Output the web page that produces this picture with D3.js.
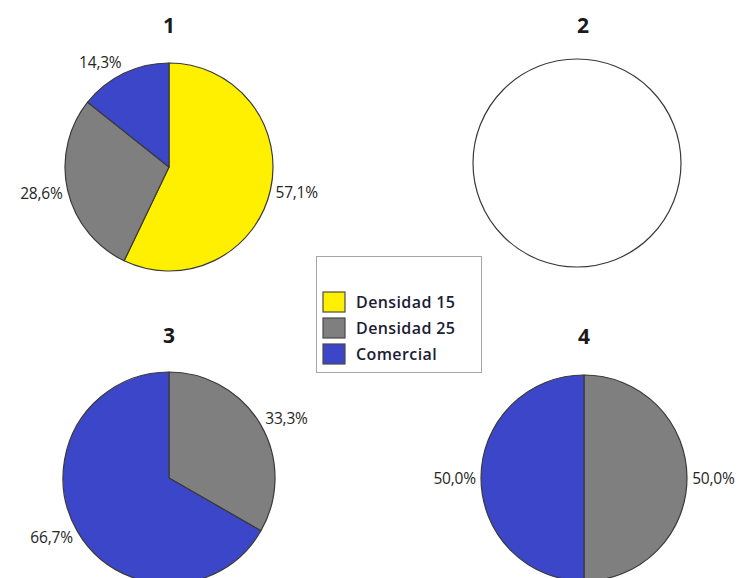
<!DOCTYPE html>
<html>
<head>
<meta charset="utf-8">
<script src="https://cdn.jsdelivr.net/npm/d3@7"></script>
<style>
  html, body { margin: 0; padding: 0; background: #fff; }
  svg { display: block; }
</style>
</head>
<body>
<svg id="chart" width="743" height="578"></svg>
<script>
// Land-use categories shown in every pie
const categories = ["Densidad 15", "Densidad 25", "Comercial"];
const colors = ["#FFF000", "#7F7F7F", "#3C46C8"];

// Share (%) of each category, one array per zone
const pieTitles = ["1", "2", "3", "4"];
const zone1 = [57.1, 28.6, 14.3];
const zone2 = [0, 0, 0];
const zone3 = [0, 33.3, 66.7];
const zone4 = [0, 50.0, 50.0];
const zones = [zone1, zone2, zone3, zone4];

// Panel layout (centre and radius of each pie, title position)
const panels = [
  { cx: 169, cy: 167, r: 104, ty: 33 },
  { cx: 577, cy: 163, r: 104, ty: 33, tx: 583 },
  { cx: 169, cy: 478, r: 106, ty: 343 },
  { cx: 584, cy: 478, r: 103, ty: 344 }
];

const svg = d3.select("#chart");
const fmt = v => d3.format(".1f")(v).replace(".", ",") + "%";
const labelFont = "'Open Sans', 'DejaVu Sans', sans-serif";

const pie = d3.pie().sort(null).value(d => d.value);
const color = d3.scaleOrdinal().domain(categories).range(colors);

zones.forEach((vals, i) => {
  const p = panels[i];
  const g = svg.append("g").attr("transform", `translate(${p.cx},${p.cy})`);

  svg.append("text")
    .attr("x", p.tx || p.cx)
    .attr("y", p.ty)
    .attr("text-anchor", "middle")
    .attr("font-family", labelFont)
    .attr("font-weight", 700)
    .attr("font-size", 21)
    .attr("fill", "#1a1a1a")
    .text(pieTitles[i]);

  const data = categories.map((c, k) => ({ cat: c, value: vals[k] }));
  const total = d3.sum(vals);

  if (total === 0) {
    g.append("circle")
      .attr("r", p.r)
      .attr("fill", "#fff")
      .attr("stroke", "#3a3a3a")
      .attr("stroke-width", 1.2);
    return;
  }

  const arcs = pie(data).filter(a => a.data.value > 0);
  const arc = d3.arc().innerRadius(0).outerRadius(p.r);

  g.selectAll("path.slice")
    .data(arcs)
    .join("path")
    .attr("class", "slice")
    .attr("d", arc)
    .attr("fill", d => color(d.data.cat))
    .attr("stroke", "#3a3a3a")
    .attr("stroke-width", 1.2)
    .attr("stroke-linejoin", "round");

  // Percentage labels just outside each slice
  const labels = g.selectAll("text.pct")
    .data(arcs)
    .join("text")
    .attr("class", "pct")
    .attr("font-family", labelFont)
    .attr("font-size", 15.5)
    .attr("letter-spacing", "-0.2")
    .attr("fill", "#262626")
    .text(d => fmt(d.data.value));

  labels.each(function (d) {
    const t = d3.select(this);
    const w = this.getBBox().width;
    const mid = (d.startAngle + d.endAngle) / 2;
    const s = Math.sin(mid), c = Math.cos(mid);
    const side = Math.abs(s) < 0.05 ? 0 : Math.sign(s);
    const x = s * (p.r + 5) + side * w / 2;
    const y = -c * (p.r + 12);
    t.attr("x", x)
      .attr("y", y)
      .attr("text-anchor", "middle")
      .attr("dy", "0.36em");
  });
});

// Legend
const lg = svg.append("g").attr("transform", "translate(316,256)");
lg.append("rect")
  .attr("x", 0.5).attr("y", 0.5)
  .attr("width", 165).attr("height", 116)
  .attr("fill", "#fff")
  .attr("stroke", "#a6a6a6")
  .attr("stroke-width", 1);

const items = lg.selectAll("g.item")
  .data(categories)
  .join("g")
  .attr("class", "item")
  .attr("transform", (d, k) => `translate(7,${36 + k * 26})`);

items.append("rect")
  .attr("width", 22).attr("height", 20)
  .attr("fill", d => color(d))
  .attr("stroke", "#4a4a4a")
  .attr("stroke-width", 1.2);

items.append("text")
  .attr("x", 33)
  .attr("y", 10)
  .attr("dy", "0.36em")
  .attr("font-family", labelFont)
  .attr("font-weight", 600)
  .attr("font-size", 16)
  .attr("letter-spacing", "0.4")
  .attr("fill", "#1c1c34")
  .text(d => d);
</script>
</body>
</html>
